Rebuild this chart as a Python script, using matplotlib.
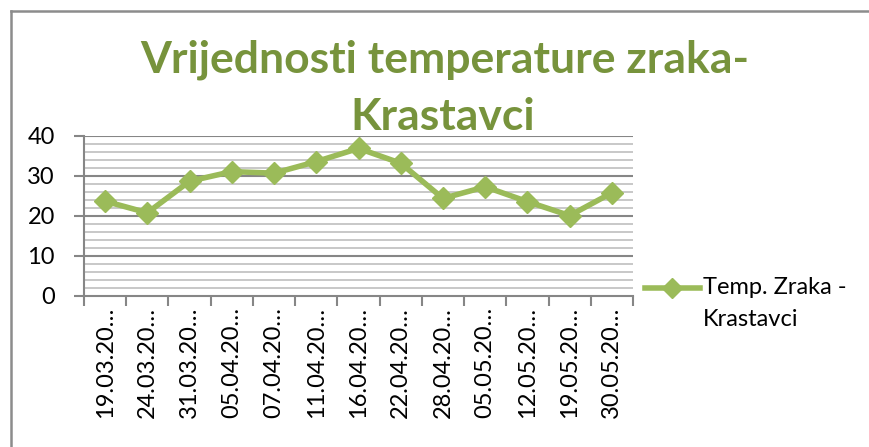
import matplotlib
matplotlib.use("Agg")
import matplotlib.pyplot as plt
from matplotlib.lines import Line2D
import numpy as np

categories = ["19.03.20…", "24.03.20…", "31.03.20…", "05.04.20…", "07.04.20…",
              "11.04.20…", "16.04.20…", "22.04.20…", "28.04.20…", "05.05.20…",
              "12.05.20…", "19.05.20…", "30.05.20…"]
temps = [23.7, 20.8, 28.7, 31.1, 30.7, 33.6, 36.9, 33.2, 24.4, 27.3, 23.6, 20.1, 25.8]
yticks = [0, 10, 20, 30, 40]
series_name = "Temp. Zraka -\nKrastavci"
title = "Vrijednosti temperature zraka-\nKrastavci"

W, H = 869, 447
fig = plt.figure(figsize=(W / 100, H / 100), dpi=100)
fig.patch.set_facecolor("white")

plt.rcParams['font.family'] = ['Lato', 'DejaVu Sans']

# outer chart border (left & top visible)
fig.add_artist(Line2D([10.5 / W, 10.5 / W], [0, 1 - 11 / H], color="#8c8c8c", lw=1.8,
                      transform=fig.transFigure))
fig.add_artist(Line2D([10.5 / W, 1], [1 - 11 / H, 1 - 11 / H], color="#8c8c8c", lw=1.8,
                      transform=fig.transFigure))

left, right, top, bottom = 84, 633, 136, 296
ax = fig.add_axes([left / W, 1 - bottom / H, (right - left) / W, (bottom - top) / H])

x = np.arange(len(categories))
ax.set_xlim(-0.5, len(categories) - 0.5)
ax.set_ylim(0, 40)

# gridlines
for v in np.arange(2, 40.01, 2):
    major = (v % 10 == 0)
    ax.axhline(v, color="#868686" if major else "#bfbfbf", lw=1.5 if major else 1.2, zorder=1)

ax.plot(x, temps, color="#9BBB59", lw=4, marker="D", markersize=11,
        markerfacecolor="#9BBB59", markeredgecolor="#9BBB59", zorder=3, clip_on=False)

for s in ["top", "right"]:
    ax.spines[s].set_visible(False)
for s in ["left", "bottom"]:
    ax.spines[s].set_color("#868686")
    ax.spines[s].set_linewidth(1.5)

ax.set_yticks(yticks)
ax.set_yticklabels([str(v) for v in yticks], fontsize=17)
ax.set_xticks(x)
ax.set_xticklabels(categories, rotation=90, fontsize=17, va="top")
ax.set_xticks(np.arange(-0.5, len(categories), 1), minor=True)
ax.tick_params(axis="x", which="major", length=0, pad=8)
ax.tick_params(axis="x", which="minor", length=7, width=1.5, color="#868686", direction="out")
ax.tick_params(axis="y", which="major", length=7, width=1.5, color="#868686", pad=14)

fig.text(445 / W, 1 - 60 / H, "Vrijednosti temperature zraka-", ha="center", va="center",
         fontsize=32, fontweight="bold", color="#77933C")
fig.text(443 / W, 1 - 117 / H, "Krastavci", ha="center", va="center",
         fontsize=32, fontweight="bold", color="#77933C")

# legend
fig.add_artist(Line2D([645 / W, 700 / W], [1 - 288 / H] * 2, color="#9BBB59", lw=4,
                      transform=fig.transFigure))
fig.add_artist(Line2D([672 / W], [1 - 288 / H], color="#9BBB59", marker="D", markersize=10,
                      transform=fig.transFigure))
fig.text(703 / W, 1 - 288 / H, "Temp. Zraka -", ha="left", va="center", fontsize=17)
fig.text(703 / W, 1 - 320 / H, "Krastavci", ha="left", va="center", fontsize=17)

fig.savefig("out.png", dpi=100)
